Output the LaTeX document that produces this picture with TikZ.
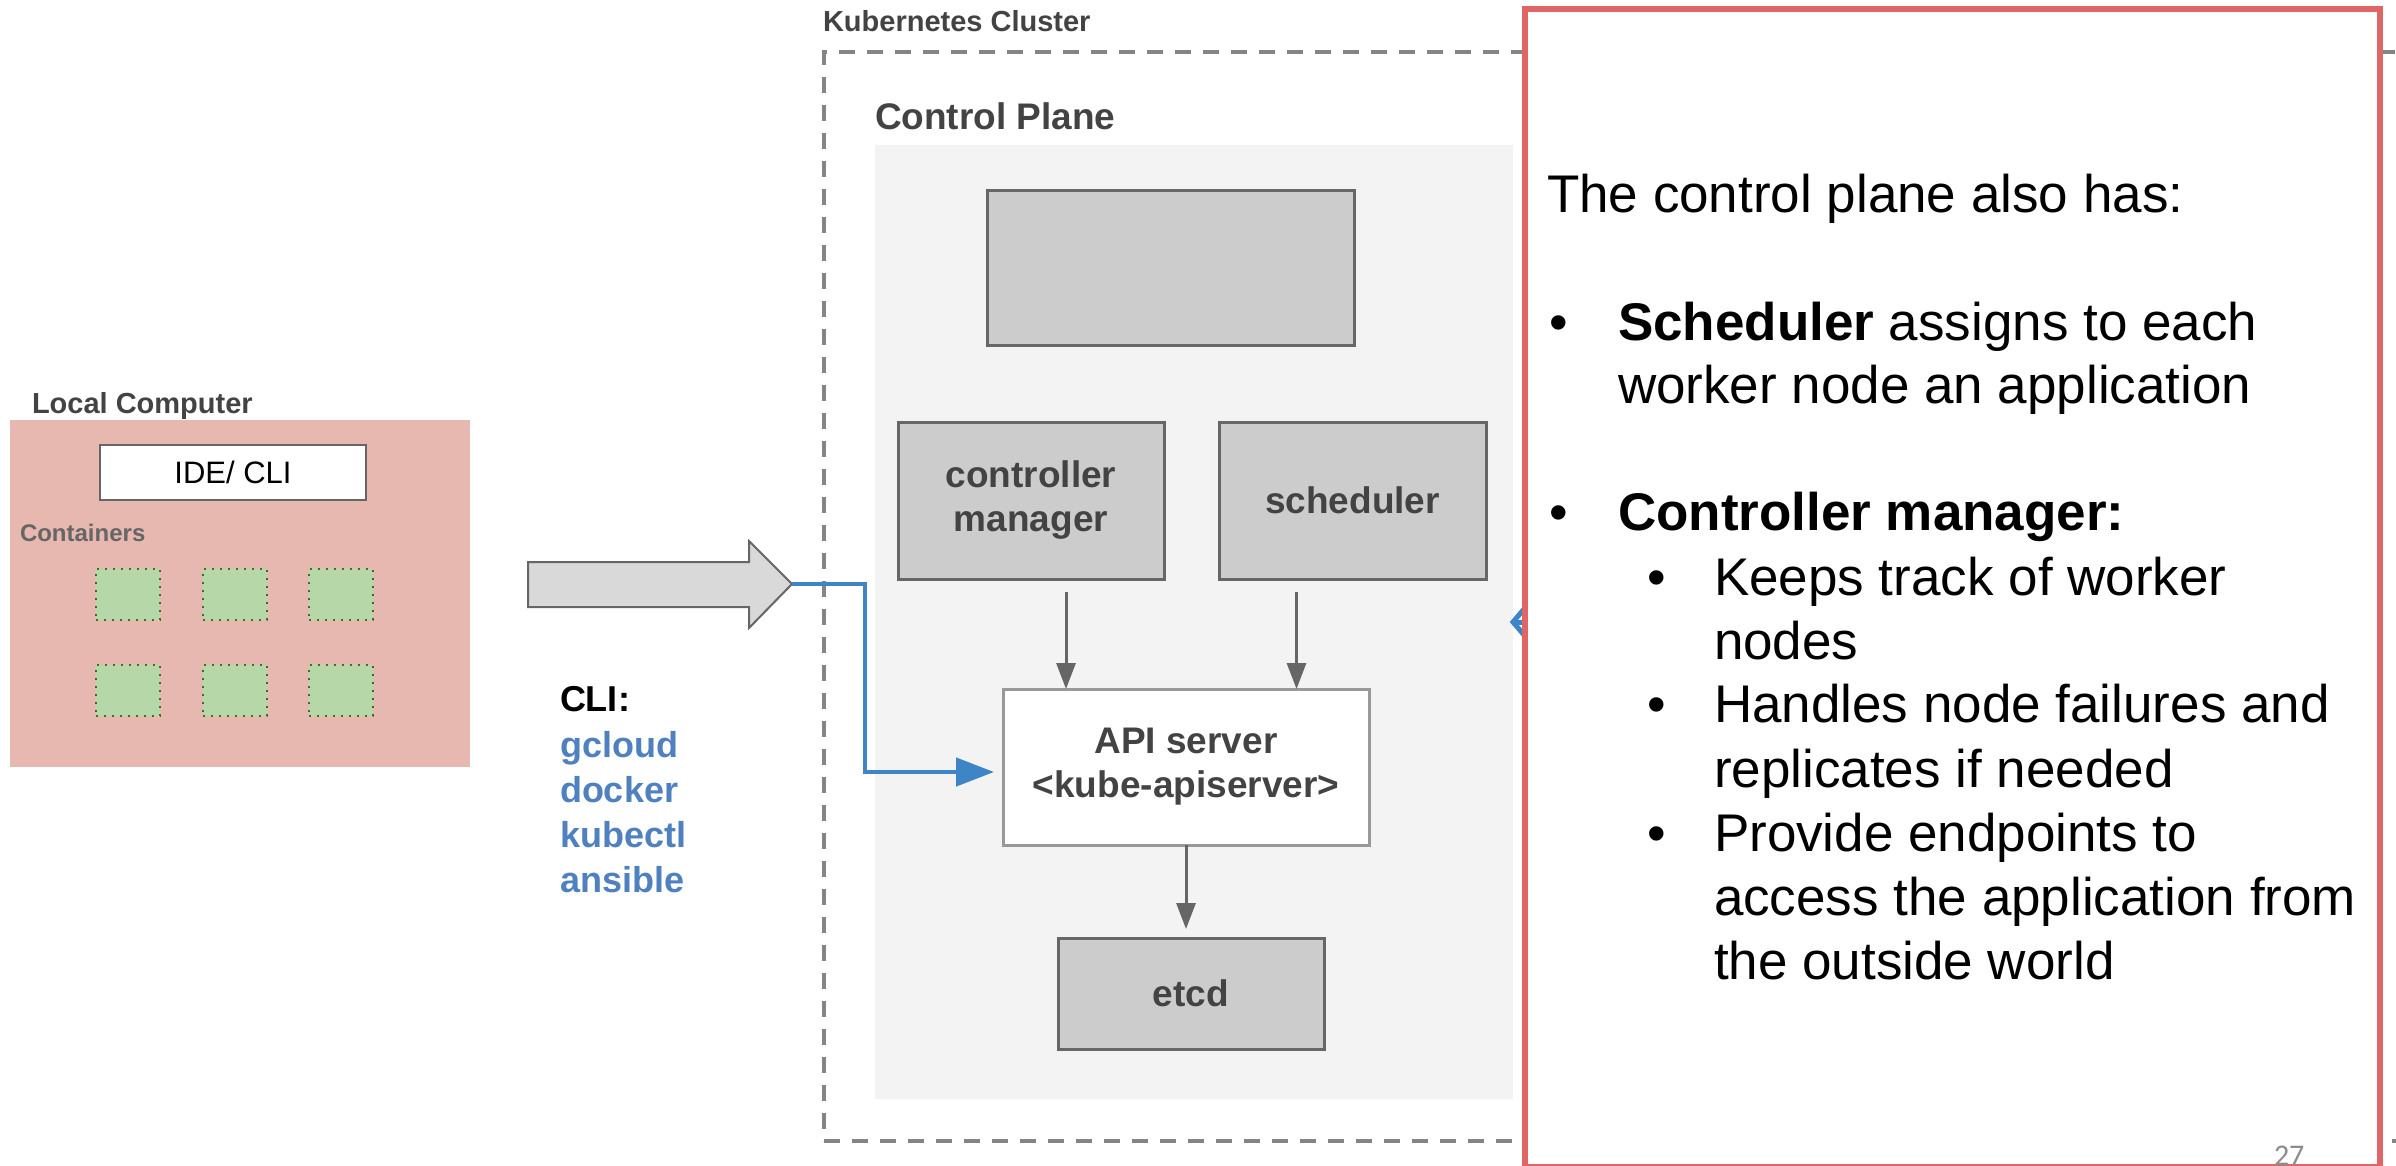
\documentclass[tikz,border=0pt]{standalone}
\usepackage{fontspec}
\setmainfont{Liberation Sans}
\newfontfamily\numfont{Carlito}
\usetikzlibrary{arrows.meta}

\definecolor{pinkbg}{HTML}{E6B8AF}
\definecolor{greenfill}{HTML}{B6D7A8}
\definecolor{greenline}{HTML}{38761D}
\definecolor{boxgray}{HTML}{CCCCCC}
\definecolor{edgegray}{HTML}{666666}
\definecolor{apiedge}{HTML}{999999}
\definecolor{labelgray}{HTML}{434343}
\definecolor{panelgray}{HTML}{F3F3F3}
\definecolor{dashgray}{HTML}{858585}
\definecolor{cliblue}{HTML}{3D85C6}
\definecolor{toolblue}{HTML}{4F80BF}
\definecolor{notered}{HTML}{E06666}
\definecolor{arrowfill}{HTML}{D9D9D9}
\definecolor{pagegray}{HTML}{8C8C8C}

\begin{document}
\begin{tikzpicture}[x=1pt, y=-1pt,
  every node/.style={inner sep=0pt, outer sep=0pt},
  corner/.style={anchor=north west},
  compbox/.style={corner, draw=edgegray, line width=3pt, fill=boxgray,
    text=labelgray, align=center, font=\bfseries\fontsize{37}{44}\selectfont},
  container/.style={corner, draw=greenline, line width=2pt,
    dash pattern=on 2pt off 6pt, fill=greenfill,
    minimum width=64, minimum height=51},
  grouptitle/.style={anchor=base west, text=labelgray,
    font=\bfseries\fontsize{29}{35}\selectfont},
  clitext/.style={anchor=base west, font=\bfseries\fontsize{36}{45}\selectfont},
  note/.style={anchor=base west, font=\fontsize{53}{64}\selectfont},
  garrow/.style={draw=edgegray, line width=3pt,
    -{Triangle[length=26pt,width=19pt]}},
  bluelink/.style={draw=cliblue, line width=4.5pt,
    -{Triangle[length=38pt,width=28pt]}}
]
% page
\fill[white] (0,0) rectangle (2396,1165);
\useasboundingbox (0,0) rectangle (2396,1165);

% ---------- local computer ----------
\node[corner, fill=pinkbg, minimum width=460, minimum height=347] (local) at (10,420) {};
\node[grouptitle] (localLabel) at (32,413) {Local Computer};
\node[corner, draw=edgegray, line width=2.5pt, fill=white, minimum width=266,
  minimum height=55, font=\fontsize{31}{37}\selectfont] (ide) at (100,445) {IDE/ CLI};
\node[anchor=base west, text=edgegray, font=\bfseries\fontsize{24}{29}\selectfont]
  (contLabel) at (20,541) {Containers};
\node[container] (c1) at (96,569) {};
\node[container] (c2) at (203,569) {};
\node[container] (c3) at (309,569) {};
\node[container] (c4) at (96,665) {};
\node[container] (c5) at (203,665) {};
\node[container] (c6) at (309,665) {};

% ---------- block arrow and CLI tools ----------
\draw[draw=edgegray, line width=2pt, fill=arrowfill, line join=miter]
  (528,562) -- (749,562) -- (749,541) -- (792,584) -- (749,628)
  -- (749,607) -- (528,607) -- cycle;
\coordinate (pushTip) at (792,584);

\node[clitext] (cliHead) at (560,711) {CLI:};
\node[clitext, text=toolblue] (toolA) at (560,757) {gcloud};
\node[clitext, text=toolblue] (toolB) at (560,802) {docker};
\node[clitext, text=toolblue] (toolC) at (560,847) {kubectl};
\node[clitext, text=toolblue] (toolD) at (560,892) {ansible};

% ---------- kubernetes cluster ----------
\node[corner, draw=dashgray, line width=4pt, dash pattern=on 16pt off 12pt,
  minimum width=1585, minimum height=1089] (cluster) at (824,52) {};
\node[grouptitle] (clusterLabel) at (823,31) {Kubernetes Cluster};

\node[corner, fill=panelgray, minimum width=638, minimum height=954] (plane) at (875,145) {};
\node[anchor=base west, text=labelgray, font=\bfseries\fontsize{37}{44}\selectfont]
  (planeLabel) at (875,129) {Control Plane};

\node[compbox, minimum width=367, minimum height=155] (blank) at (987,190) {};
\node[compbox, minimum width=266, minimum height=157] (cm) at (898,422) {controller\\manager};
\node[compbox, minimum width=267, minimum height=157] (sched) at (1219,422) {scheduler};
\node[compbox, draw=apiedge, fill=white, minimum width=366, minimum height=156]
  (api) at (1003,689) {API server\\{<}kube-apiserver{>}};
\node[compbox, minimum width=266, minimum height=111] (etcd) at (1058,938) {etcd};

% connectors inside the control plane
\draw[garrow, shorten >=13pt] ([xshift=35pt,yshift=-13pt]cm.south)
  -- ([xshift=35pt,yshift=-13pt]cm.south |- api.north);
\draw[garrow, shorten >=13pt] ([xshift=-56pt,yshift=-13pt]sched.south)
  -- ([xshift=-56pt,yshift=-13pt]sched.south |- api.north);
\draw[garrow, shorten >=9pt] (api.south) -- (api.south |- etcd.north);

% command path from the local machine into the API server
\draw[bluelink, shorten >=9pt] (pushTip) -- (865,584) |- ([yshift=-5pt]api.west);

% incoming link on the right edge of the control plane
\draw[cliblue, line width=5pt] (1540,622) -- (1514,622);
\draw[cliblue, line width=5pt, line join=miter] (1530,602) -- (1513,622) -- (1530,642);

% ---------- notes panel ----------
\node[corner, draw=notered, line width=6pt, fill=white, minimum width=855,
  minimum height=1158] (notes) at (1525,9) {};

\node[note] (intro) at (1547,212) {The control plane also has:};
\node[note] (dotA) at (1549,340) {•};
\node[note] (schedA) at (1618,340) {\textbf{Scheduler} assigns to each};
\node[note] (schedB) at (1618,403) {worker node an application};
\node[note] (dotB) at (1549,530) {•};
\node[note] (ctrlHead) at (1618,530) {\textbf{Controller manager:}};

\node[note] (subA) at (1647,595) {•};
\node[note] (ctrlA1) at (1714,595) {Keeps track of worker};
\node[note] (ctrlA2) at (1714,659) {nodes};
\node[note] (subB) at (1647,722) {•};
\node[note] (ctrlB1) at (1714,722) {Handles node failures and};
\node[note] (ctrlB2) at (1714,787) {replicates if needed};
\node[note] (subC) at (1647,851) {•};
\node[note] (ctrlC1) at (1714,851) {Provide endpoints to};
\node[note] (ctrlC2) at (1714,915) {access the application from};
\node[note] (ctrlC3) at (1714,979) {the outside world};

\node[anchor=base west, text=pagegray, font=\numfont\fontsize{30}{36}\selectfont]
  (pageNo) at (2274,1165) {27};
\end{tikzpicture}
\end{document}
